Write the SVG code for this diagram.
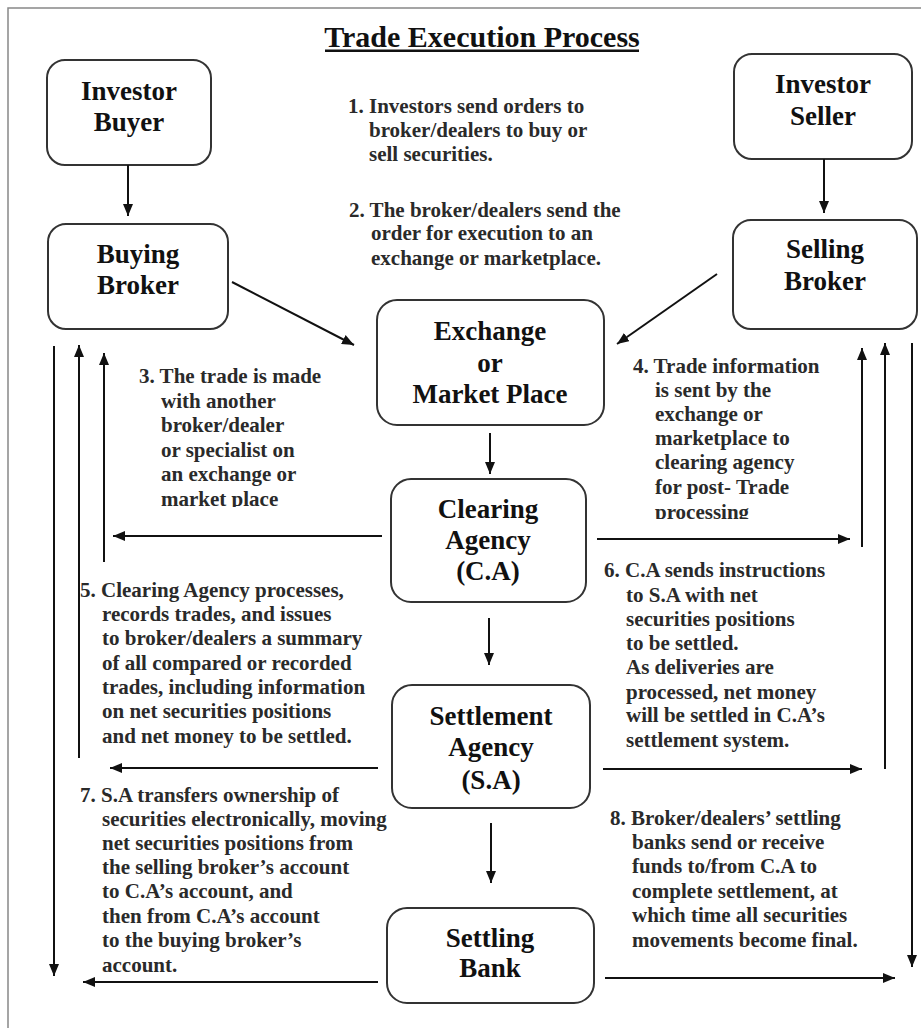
<svg xmlns="http://www.w3.org/2000/svg" width="921" height="1028" viewBox="0 0 921 1028">
<style>
.box{fill:#fff;stroke:#333;stroke-width:2}
.lbl{font-family:"Liberation Serif","Times New Roman",serif;font-weight:bold;font-size:27px;fill:#111;text-anchor:middle}
.t{font-family:"Liberation Serif","Times New Roman",serif;font-weight:bold;font-size:21px;fill:#2a2a2a}
.ln{stroke:#111;stroke-width:2;fill:none}
.arr{stroke:#111;stroke-width:2;fill:none;marker-end:url(#ah)}
</style>
<defs>
<marker id="ah" viewBox="0 0 12 10" refX="12" refY="5" markerWidth="12" markerHeight="10" markerUnits="userSpaceOnUse" orient="auto">
<path d="M0,0 L12,5 L0,10 z" fill="#111"/>
</marker>
<clipPath id="c3"><rect x="100" y="360" width="300" height="147"/></clipPath>
<clipPath id="c4"><rect x="620" y="350" width="240" height="169"/></clipPath>
</defs>
<rect width="921" height="1028" fill="#fff"/>
<path d="M8,1028 V8 H921" fill="none" stroke="#888" stroke-width="1.5"/>
<text x="482" y="47" font-family="'Liberation Serif','Times New Roman',serif" font-weight="bold" font-size="30" fill="#111" text-anchor="middle">Trade Execution Process</text>
<rect x="325" y="49.5" width="314" height="2.5" fill="#111"/>

<g id="investor-buyer"><rect class="box" x="47" y="60" width="164" height="105" rx="18"/><text class="lbl" x="129" y="100">Investor</text><text class="lbl" x="129" y="131">Buyer</text></g>
<g id="buying-broker"><rect class="box" x="48" y="224" width="180" height="105" rx="18"/><text class="lbl" x="138" y="263">Buying</text><text class="lbl" x="138" y="294">Broker</text></g>
<g id="investor-seller"><rect class="box" x="734" y="54" width="178" height="105" rx="18"/><text class="lbl" x="823" y="93">Investor</text><text class="lbl" x="823" y="125">Seller</text></g>
<g id="selling-broker"><rect class="box" x="733" y="220" width="184" height="109" rx="18"/><text class="lbl" x="825" y="258">Selling</text><text class="lbl" x="825" y="290">Broker</text></g>
<g id="exchange"><rect class="box" x="377" y="300" width="227" height="125" rx="20"/><text class="lbl" x="490" y="340">Exchange</text><text class="lbl" x="490" y="372">or</text><text class="lbl" x="490" y="403">Market Place</text></g>
<g id="clearing"><rect class="box" x="391" y="479" width="195" height="123" rx="20"/><text class="lbl" x="488" y="518">Clearing</text><text class="lbl" x="488" y="549">Agency</text><text class="lbl" x="488" y="580">(C.A)</text></g>
<g id="settlement"><rect class="box" x="392" y="685" width="198" height="123" rx="20"/><text class="lbl" x="491" y="725">Settlement</text><text class="lbl" x="491" y="756">Agency</text><text class="lbl" x="491" y="789">(S.A)</text></g>
<g id="settling-bank"><rect class="box" x="387" y="908" width="207" height="95" rx="20"/><text class="lbl" x="490" y="947">Settling</text><text class="lbl" x="490" y="977">Bank</text></g>

<g id="connectors">
<line class="arr" x1="128" y1="165" x2="128" y2="216"/>
<line class="arr" x1="824" y1="159" x2="824" y2="213"/>
<line class="arr" x1="232" y1="282" x2="354" y2="345"/>
<line class="arr" x1="717" y1="274" x2="617" y2="344"/>
<line class="arr" x1="490" y1="433" x2="490" y2="474"/>
<line class="arr" x1="489" y1="618" x2="489" y2="665"/>
<line class="arr" x1="491" y1="823" x2="491" y2="883"/>
<line class="arr" x1="54" y1="346" x2="54" y2="976"/>
<line class="arr" x1="79" y1="758" x2="79" y2="345"/>
<line class="arr" x1="104" y1="562" x2="104" y2="353"/>
<line class="arr" x1="382" y1="536" x2="113" y2="536"/>
<line class="arr" x1="378" y1="768" x2="110" y2="768"/>
<line class="arr" x1="378" y1="982" x2="83" y2="982"/>
<line class="arr" x1="862" y1="547" x2="862" y2="348"/>
<line class="arr" x1="885" y1="769" x2="885" y2="343"/>
<line class="arr" x1="912" y1="343" x2="912" y2="967"/>
<line class="arr" x1="597" y1="539" x2="850" y2="539"/>
<line class="arr" x1="603" y1="769" x2="862" y2="769"/>
<line class="arr" x1="605" y1="978" x2="895" y2="978"/>
</g>

<g id="note1" class="t"><text x="348" y="113">1. Investors send orders to</text><text x="369" y="137">broker/dealers to buy or</text><text x="369" y="161">sell securities.</text></g>
<g id="note2" class="t"><text x="349" y="217">2. The broker/dealers send the</text><text x="371" y="240">order for execution to an</text><text x="371" y="265">exchange or marketplace.</text></g>
<g id="note3" class="t" clip-path="url(#c3)"><text x="139" y="383">3. The trade is made</text><text x="161" y="408">with another</text><text x="161" y="432">broker/dealer</text><text x="161" y="457">or specialist on</text><text x="161" y="481">an exchange or</text><text x="161" y="506">market place</text></g>
<g id="note4" class="t" clip-path="url(#c4)"><text x="633" y="373">4. Trade information</text><text x="655" y="397">is sent by the</text><text x="655" y="421">exchange or</text><text x="655" y="445">marketplace to</text><text x="655" y="469">clearing agency</text><text x="655" y="494">for post- Trade</text><text x="655" y="519">processing</text></g>
<g id="note5" class="t"><text x="80" y="597">5. Clearing Agency processes,</text><text x="102" y="621">records trades, and issues</text><text x="102" y="645">to broker/dealers a summary</text><text x="102" y="670">of all compared or recorded</text><text x="102" y="694">trades, including information</text><text x="102" y="718">on net securities positions</text><text x="102" y="743">and net money to be settled.</text></g>
<g id="note6" class="t"><text x="604" y="577">6. C.A sends instructions</text><text x="626" y="602">to S.A with net</text><text x="626" y="626">securities positions</text><text x="626" y="650">to be settled.</text><text x="626" y="674">As deliveries are</text><text x="626" y="699">processed, net money</text><text x="626" y="722">will be settled in C.A’s</text><text x="626" y="747">settlement system.</text></g>
<g id="note7" class="t"><text x="80" y="802">7. S.A transfers ownership of</text><text x="102" y="826">securities electronically, moving</text><text x="102" y="850">net securities positions from</text><text x="102" y="874">the selling broker’s account</text><text x="102" y="898">to C.A’s account, and</text><text x="102" y="923">then from C.A’s account</text><text x="102" y="947">to the buying broker’s</text><text x="102" y="972">account.</text></g>
<g id="note8" class="t"><text x="610" y="825">8. Broker/dealers’ settling</text><text x="632" y="849">banks send or receive</text><text x="632" y="873">funds to/from C.A to</text><text x="632" y="898">complete settlement, at</text><text x="632" y="922">which time all securities</text><text x="632" y="947">movements become final.</text></g>
</svg>
